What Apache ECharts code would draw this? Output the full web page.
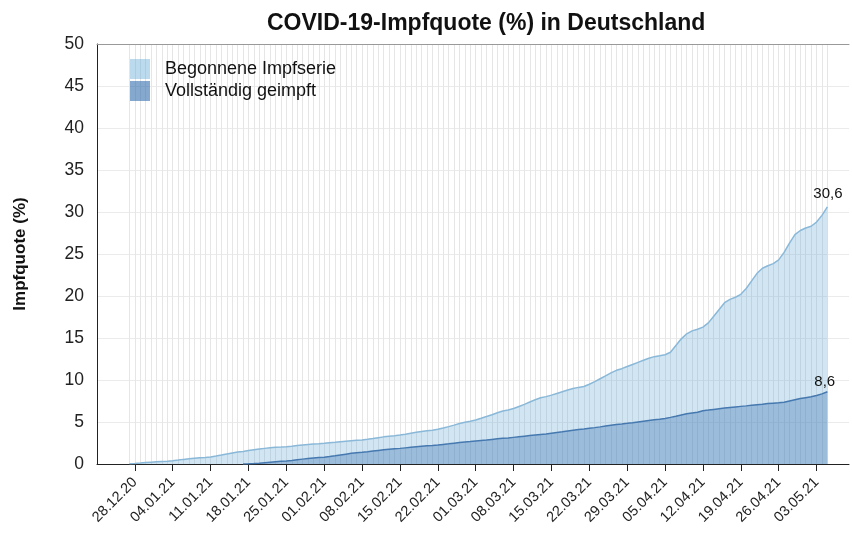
<!DOCTYPE html>
<html>
<head>
<meta charset="utf-8">
<script src="https://cdn.jsdelivr.net/npm/echarts@6/dist/echarts.min.js"></script>
<style>
  html, body { margin: 0; padding: 0; background: #fff; }
  #chart { width: 852px; height: 533px; }
</style>
</head>
<body>
<div id="chart"></div>
<script>
// axis runs daily from 21.12.20, data from 27.12.20 to 05.05.21
const axisStart = new Date(2020, 11, 21)
const axisDays = 140
const leadDays = 6

const seriesNames = ['Begonnene Impfserie', 'Vollständig geimpft']

// Begonnene Impfserie (%), daily from 27.12.20
const firstDose = [
  0.02, 0.06, 0.11, 0.17, 0.22, 0.26, 0.3,
  0.34, 0.4, 0.47, 0.55, 0.62, 0.68, 0.73,
  0.77, 0.84, 0.95, 1.07, 1.2, 1.32, 1.42,
  1.5, 1.6, 1.7, 1.78, 1.86, 1.93, 1.99,
  2.02, 2.06, 2.12, 2.19, 2.26, 2.33, 2.39,
  2.42, 2.46, 2.52, 2.58, 2.65, 2.72, 2.78,
  2.82, 2.86, 2.94, 3.03, 3.13, 3.23, 3.31,
  3.37, 3.45, 3.55, 3.66, 3.77, 3.88, 3.97,
  4.03, 4.13, 4.28, 4.45, 4.63, 4.82, 4.98,
  5.08, 5.24, 5.44, 5.65, 5.87, 6.1, 6.3,
  6.42, 6.6, 6.85, 7.1, 7.38, 7.65, 7.88,
  8.02, 8.2, 8.4, 8.6, 8.8, 8.98, 9.12,
  9.22, 9.5, 9.8, 10.15, 10.5, 10.85, 11.15,
  11.35, 11.6, 11.85, 12.1, 12.35, 12.58, 12.78,
  12.88, 13.0, 13.3, 14.1, 14.9, 15.5, 15.85,
  16.05, 16.3, 16.8, 17.6, 18.4, 19.2, 19.6,
  19.85, 20.2, 20.9, 21.8, 22.7, 23.3, 23.6,
  23.85, 24.3, 25.2, 26.3, 27.3, 27.8, 28.1,
  28.3, 28.8, 29.6, 30.6
]

// Vollständig geimpft (%), daily from 27.12.20 (none before 17.01.21)
const fullyVaccinated = [
  null, null, null, null, null, null, null,
  null, null, null, null, null, null, null,
  null, null, null, null, null, null, null,
  0.0, 0.02, 0.05, 0.1, 0.16, 0.22, 0.28,
  0.32, 0.36, 0.42, 0.5, 0.58, 0.65, 0.72,
  0.76, 0.8, 0.88, 0.97, 1.07, 1.17, 1.27,
  1.33, 1.39, 1.46, 1.54, 1.62, 1.7, 1.77,
  1.82, 1.86, 1.92, 1.98, 2.04, 2.1, 2.16,
  2.2, 2.26, 2.33, 2.4, 2.48, 2.56, 2.63,
  2.68, 2.74, 2.8, 2.86, 2.93, 3.0, 3.06,
  3.1, 3.17, 3.24, 3.31, 3.38, 3.45, 3.51,
  3.56, 3.65, 3.74, 3.83, 3.93, 4.02, 4.1,
  4.16, 4.25, 4.33, 4.42, 4.52, 4.62, 4.71,
  4.77, 4.84, 4.92, 5.01, 5.1, 5.19, 5.27,
  5.33, 5.43, 5.55, 5.68, 5.83, 5.97, 6.08,
  6.15, 6.35, 6.42, 6.5, 6.58, 6.66, 6.73,
  6.8, 6.86, 6.92, 6.99, 7.06, 7.12, 7.2,
  7.24, 7.28, 7.35, 7.5, 7.65, 7.8, 7.9,
  8.0, 8.15, 8.35, 8.6
]

const tickLabels = [
  '28.12.20', '04.01.21', '11.01.21', '18.01.21', '25.01.21', '01.02.21',
  '08.02.21', '15.02.21', '22.02.21', '01.03.21', '08.03.21', '15.03.21',
  '22.03.21', '29.03.21', '05.04.21', '12.04.21', '19.04.21', '26.04.21',
  '03.05.21'
]

const yTicks = [0, 5, 10, 15, 20, 25, 30, 35, 40, 45, 50]

const pad = n => String(n).padStart(2, '0')
const dates = []
for (let i = 0; i < axisDays; i++) {
  const d = new Date(axisStart.getFullYear(), axisStart.getMonth(), axisStart.getDate() + i)
  dates.push(pad(d.getDate()) + '.' + pad(d.getMonth() + 1) + '.' + String(d.getFullYear()).slice(2))
}

const lead = new Array(leadDays).fill(null)
const lastIndex = leadDays + firstDose.length - 1
const isTick = i => tickLabels.indexOf(dates[i]) !== -1
const inData = i => i >= leadDays && i <= lastIndex

const endText = p => String(p.value).replace('.', ',')

const font = 'Liberation Sans, Arial, sans-serif'
const myChart = echarts.init(document.getElementById('chart'))

myChart.setOption({
  animation: false,
  textStyle: { fontFamily: font },
  title: {
    text: 'COVID-19-Impfquote (%) in Deutschland',
    left: 262,
    top: 7,
    textStyle: { fontSize: 23, fontWeight: 'bold', color: '#111', fontFamily: font }
  },
  legend: {
    orient: 'vertical',
    left: 125,
    top: 54,
    itemWidth: 20,
    itemHeight: 20,
    itemGap: 2,
    textStyle: { fontSize: 18, color: '#111', padding: [0, 0, 0, 10] },
    data: [
      { name: seriesNames[0], icon: 'rect', itemStyle: { color: 'rgba(107,174,214,0.45)', borderWidth: 0 } },
      { name: seriesNames[1], icon: 'rect', itemStyle: { color: 'rgba(51,110,175,0.6)', borderWidth: 0 } }
    ]
  },
  grid: {
    left: 97,
    right: 3,
    top: 44,
    bottom: 69
  },
  xAxis: [
    {
      type: 'category',
      data: dates,
      boundaryGap: false,
      axisLine: { lineStyle: { color: '#222', width: 1 } },
      axisTick: { interval: isTick, length: 7, lineStyle: { color: '#222' } },
      axisLabel: {
        interval: isTick,
        rotate: 45,
        fontSize: 14.5,
        color: '#222',
        margin: 16
      },
      splitLine: {
        show: true,
        interval: inData,
        lineStyle: { color: '#e6e6e6', width: 1 }
      }
    },
    {
      type: 'category',
      position: 'top',
      data: dates,
      boundaryGap: false,
      axisLine: { lineStyle: { color: '#999', width: 1 } },
      axisTick: { show: false },
      axisLabel: { show: false },
      splitLine: { show: false }
    }
  ],
  yAxis: {
    type: 'value',
    min: 0,
    max: 50,
    interval: 5,
    name: 'Impfquote (%)',
    nameLocation: 'middle',
    nameGap: 68,
    nameRotate: 90,
    nameTextStyle: { fontSize: 17, fontWeight: 'bold', color: '#111' },
    axisLine: { show: true, lineStyle: { color: '#222', width: 1 } },
    axisTick: { show: false },
    axisLabel: {
      fontSize: 17.5,
      color: '#222',
      margin: 13,
      customValues: yTicks
    },
    splitLine: { show: true, lineStyle: { color: '#ebebeb', width: 1 } }
  },
  series: [
    {
      name: seriesNames[0],
      type: 'line',
      data: lead.concat(firstDose),
      symbol: 'none',
      color: '#8ab8d8',
      lineStyle: { color: '#8ab8d8', width: 1.5 },
      areaStyle: { color: 'rgba(100,168,212,0.42)' },
      endLabel: { show: true, formatter: endText, fontSize: 15, color: '#111', offset: [-22, -13] }
    },
    {
      name: seriesNames[1],
      type: 'line',
      data: lead.concat(fullyVaccinated),
      symbol: 'none',
      color: '#4679b0',
      lineStyle: { color: '#4679b0', width: 1.5 },
      areaStyle: { color: 'rgba(45,105,172,0.47)' },
      endLabel: { show: true, formatter: endText, fontSize: 15, color: '#111', offset: [-21, -10] }
    }
  ]
})

window.addEventListener('resize', () => {
  myChart.resize()
})
</script>
</body>
</html>
